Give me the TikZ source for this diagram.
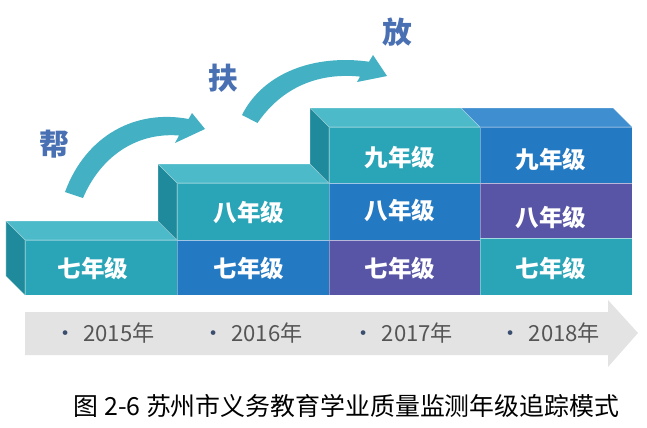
\documentclass[tikz,border=0pt]{standalone}
\usepackage{fontspec}
\setmainfont{Noto Sans CJK SC}
\definecolor{stepteal}{HTML}{2AA5B7}
\definecolor{steptealtop}{HTML}{4DBACA}
\definecolor{steptealside}{HTML}{1E8A9B}
\definecolor{stepblue}{HTML}{2479C3}
\definecolor{stepbluetop}{HTML}{3F8ED0}
\definecolor{steppurple}{HTML}{5854A6}
\definecolor{bendarrow}{HTML}{44B0C4}
\definecolor{wordblue}{HTML}{4A70B4}
\definecolor{yearband}{HTML}{E3E3E3}
\definecolor{yeartext}{HTML}{555555}
\definecolor{yeardot}{HTML}{3A4E70}
\begin{document}
\begin{tikzpicture}[scale=2.54,
  grade/.style={text=white,font=\fontsize{17}{17}\selectfont\bfseries},
  motto/.style={text=wordblue,font=\fontsize{21.5}{21.5}\selectfont\bfseries},
  yearlbl/.style={text=yeartext,font=\fontsize{16}{16}\selectfont},
  caption/.style={text=black,font=\fontsize{18}{18}\selectfont}]%
% steps of the grade tracking model, units are inches, y goes down
\ifx\facelw\undefined\newdimen\facelw\fi
\global\def\facefill#1{\filldraw[fill=#1,draw=white,draw opacity=0.35,line width=\facelw]}
\global\def\facestop{;}
\facelw=0.5bp
\useasboundingbox (0,0) rectangle (6.47,-4.28);
% 2015
\facefill{steptealtop}(0.25,-2.40)
 --(1.77,-2.40)
 --(1.58,-2.21)
 --(0.06,-2.21) --cycle\facestop
\facefill{steptealside}(0.25,-2.95)
 --(0.25,-2.40)
 --(0.06,-2.21)
 --(0.06,-2.76) --cycle\facestop
\facefill{stepteal}(0.25,-2.95) rectangle (1.77,-2.40)\facestop
\draw (0.93,-2.68) node[grade] (g15a) {七年级};
% 2016
\facefill{steptealtop}(1.77,-1.83)
 --(3.29,-1.83)
 --(3.10,-1.64)
 --(1.58,-1.64) --cycle\facestop
\facefill{steptealside}(1.77,-2.40)
 --(1.77,-1.83)
 --(1.58,-1.64)
 --(1.58,-2.21) --cycle\facestop
\facefill{stepblue}(1.77,-2.95) rectangle (3.29,-2.40)\facestop
\facefill{stepteal}(1.77,-2.40) rectangle (3.29,-1.83)\facestop
\draw (2.49,-2.68) node[grade] (g16a) {七年级};
\draw (2.49,-2.12) node[grade] (g16b) {八年级};
% 2017
\facefill{steptealtop}(3.29,-1.27)
 --(4.80,-1.27)
 --(4.61,-1.08)
 --(3.10,-1.08) --cycle\facestop
\facefill{steptealside}(3.29,-1.83)
 --(3.29,-1.27)
 --(3.10,-1.08)
 --(3.10,-1.64) --cycle\facestop
\facefill{steppurple}(3.29,-2.95) rectangle (4.80,-2.40)\facestop
\facefill{stepblue}(3.29,-2.40) rectangle (4.80,-1.83)\facestop
\facefill{stepteal}(3.29,-1.83) rectangle (4.80,-1.27)\facestop
\draw (4.00,-2.68) node[grade] (g17a) {七年级};
\draw (4.00,-2.10) node[grade] (g17b) {八年级};
\draw (4.00,-1.57) node[grade] (g17c) {九年级};
% 2018
\facefill{stepbluetop}(4.80,-1.27)
 --(6.32,-1.27)
 --(6.13,-1.08)
 --(4.61,-1.08) --cycle\facestop
\facefill{stepteal}(4.80,-2.95) rectangle (6.32,-2.38)\facestop
\facefill{steppurple}(4.80,-2.38) rectangle (6.32,-1.83)\facestop
\facefill{stepblue}(4.80,-1.83) rectangle (6.32,-1.27)\facestop
\draw (5.51,-2.68) node[grade] (g18a) {七年级};
\draw (5.51,-2.17) node[grade] (g18b) {八年级};
\draw (5.51,-1.59) node[grade] (g18c) {九年级};
% bent arrows
\fill[bendarrow](0.65,-1.92)
 .. controls (0.86,-1.35) and (1.36,-1.09) .. (1.886,-1.19)
 --(1.92,-1.13)
 --(2.05,-1.29)
 --(1.75,-1.43)
 --(1.79,-1.355)
 .. controls (1.35,-1.32) and (1.00,-1.58) .. (0.83,-1.98) --cycle\facestop
\fill[bendarrow](2.42,-1.15)
 .. controls (2.63,-0.73) and (3.14,-0.54) .. (3.69,-0.617)
 --(3.73,-0.55)
 --(3.87,-0.76)
 --(3.57,-0.82)
 --(3.60,-0.766)
 .. controls (3.15,-0.72) and (2.80,-0.90) .. (2.575,-1.23) --cycle\facestop
\draw (0.54,-1.44) node[motto] (help) {帮};
\draw (2.23,-0.78) node[motto] (hold) {扶};
\draw (3.97,-0.32) node[motto] (free) {放};
% year band
\fill[yearband](0.25,-3.12)
 --(6.08,-3.12)
 --(6.08,-3.00)
 --(6.38,-3.33)
 --(6.08,-3.67)
 --(6.08,-3.55)
 --(0.25,-3.55) --cycle\facestop
\draw (1.045,-3.33) node[yearlbl] (y15) {\textcolor{yeardot}{•}\hspace{0.3em}2015年};
\draw (2.525,-3.33) node[yearlbl] (y16) {\textcolor{yeardot}{•}\hspace{0.3em}2016年};
\draw (4.03,-3.33) node[yearlbl] (y17) {\textcolor{yeardot}{•}\hspace{0.3em}2017年};
\draw (5.50,-3.33) node[yearlbl] (y18) {\textcolor{yeardot}{•}\hspace{0.3em}2018年};
\draw (3.465,-4.06) node[caption] (cap) {图 2-6 苏州市义务教育学业质量监测年级追踪模式};
\end{tikzpicture}
\end{document}
